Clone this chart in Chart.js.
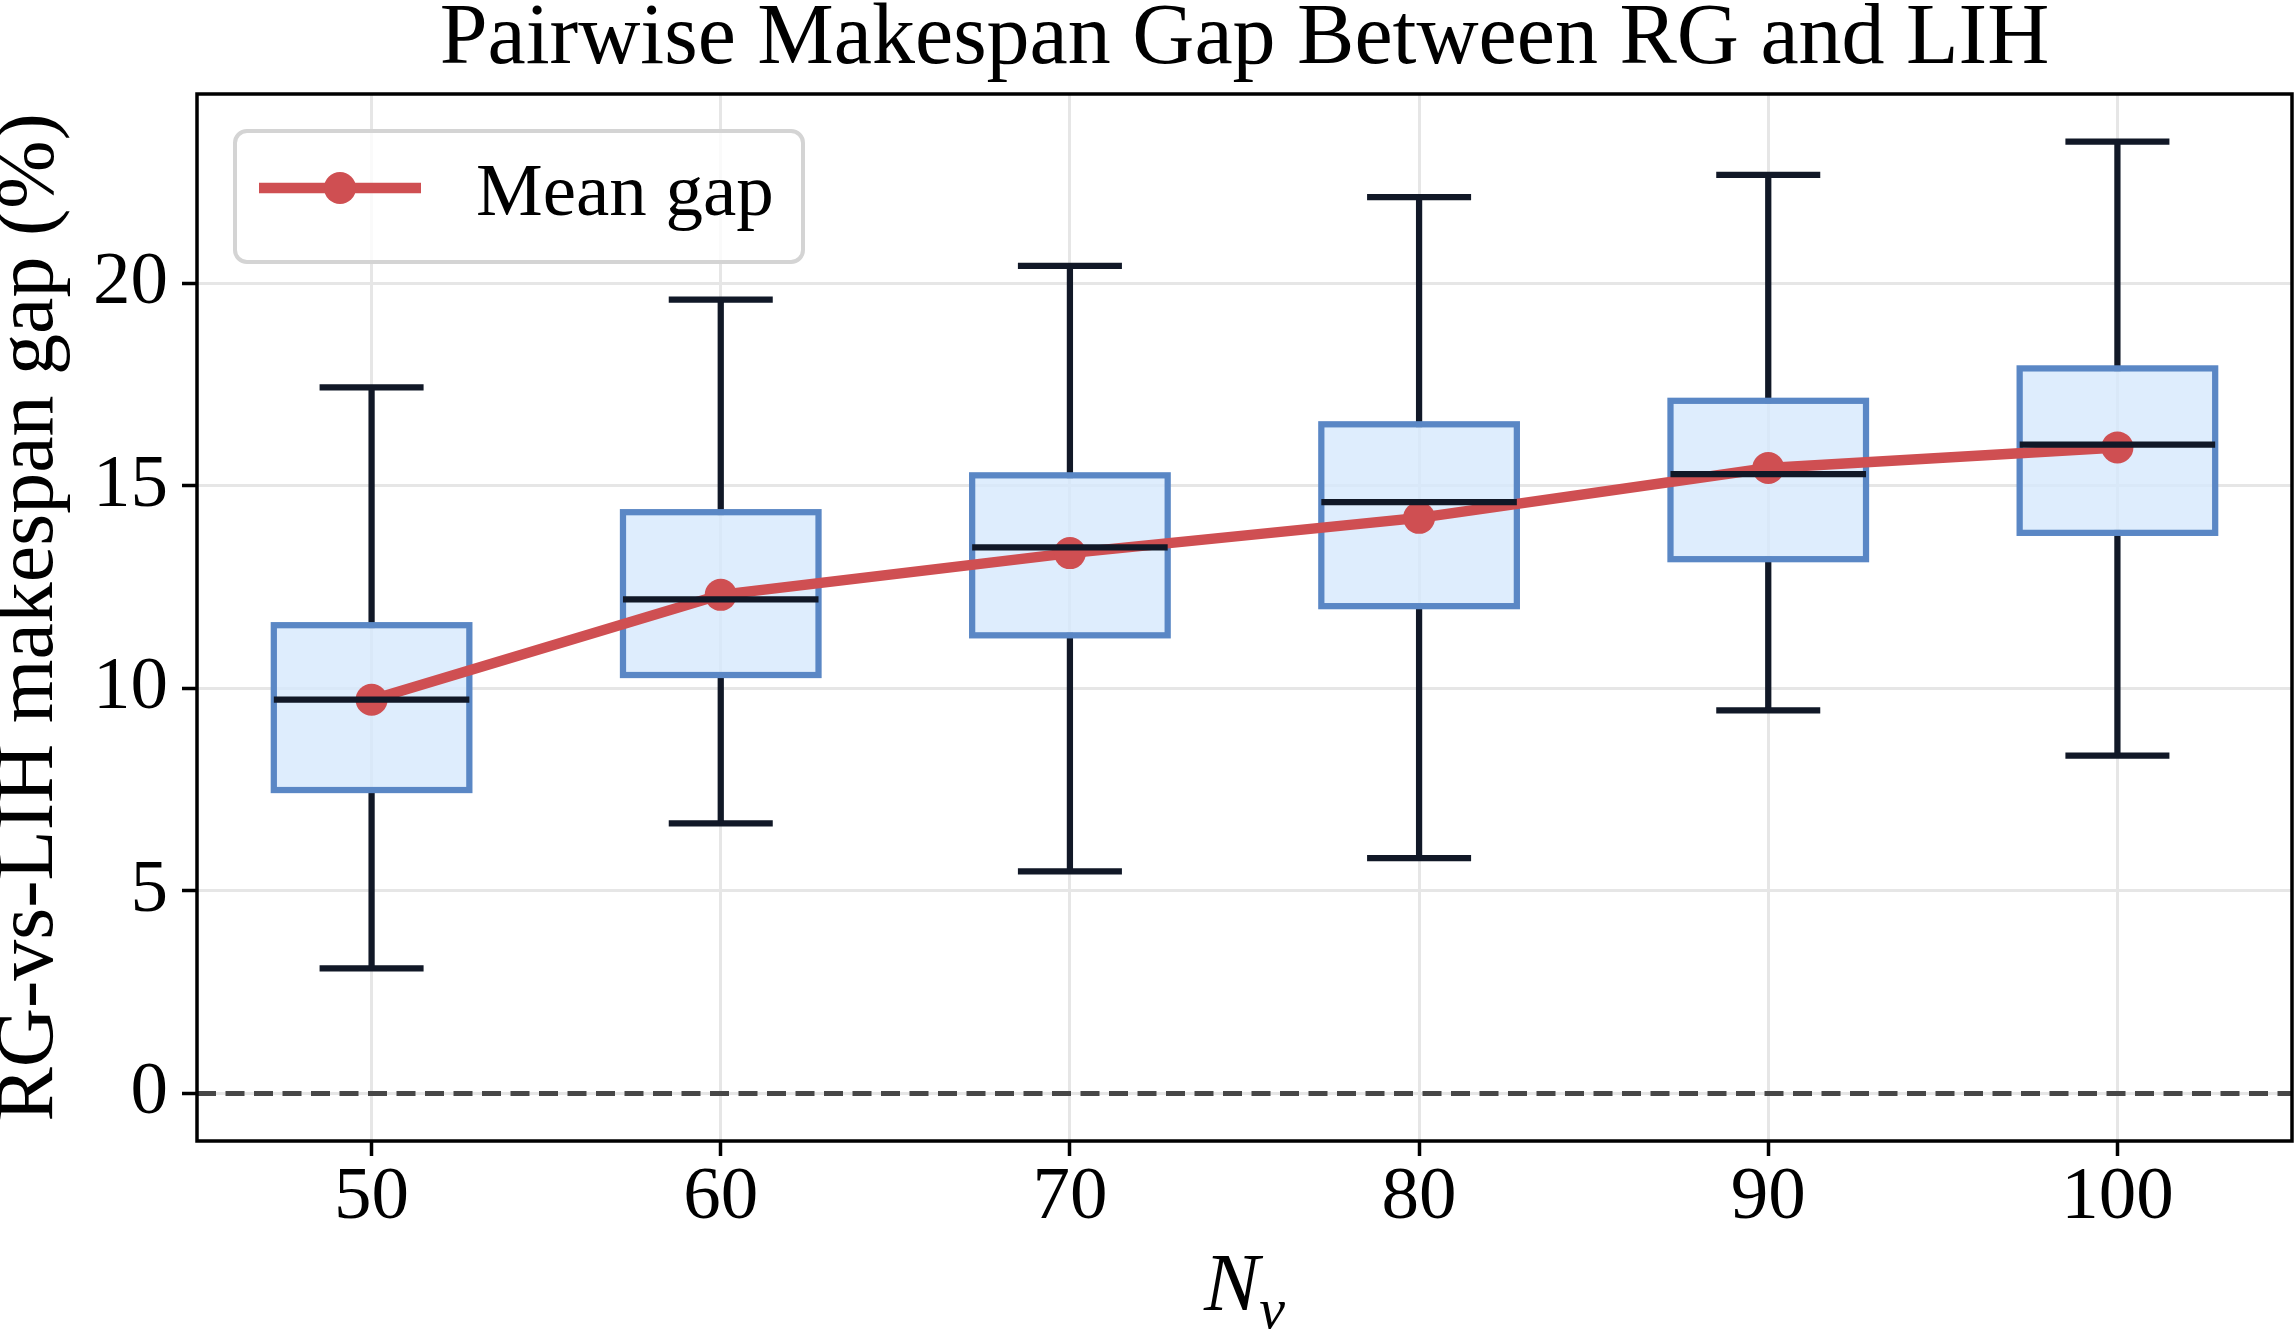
<!DOCTYPE html>
<html>
<head>
<meta charset="utf-8">
<script src="https://cdn.jsdelivr.net/npm/chart.js@4.4.1/dist/chart.umd.min.js"></script>
<style>
  body { margin: 0; background: #fff; }
  #wrap { width: 2296px; height: 1331px; position: relative; }
</style>
</head>
<body>
<div id="wrap"><canvas id="myChart"></canvas></div>
<script>
// box plot data (gap in %)
var nv = [50, 60, 70, 80, 90, 100];
var whiskerLow  = [3.09, 6.67, 5.48, 5.81, 9.46, 8.34];
var q1          = [7.49, 10.33, 11.31, 12.03, 13.19, 13.84];
var median      = [9.72, 12.20, 13.48, 14.60, 15.29, 16.02];
var q3          = [11.56, 14.35, 15.26, 16.52, 17.10, 17.90];
var whiskerHigh = [17.43, 19.60, 20.43, 22.13, 22.68, 23.50];
var meanGap     = [9.72, 12.31, 13.34, 14.21, 15.44, 15.95];

var xTicks = [50, 60, 70, 80, 90, 100];
var yTicks = [0, 5, 10, 15, 20];

var serif = '"Liberation Serif", "Times New Roman", serif';
var red = '#cf4f52';
var navy = '#111827';
var boxWidth = 5.6;   // in x units
var capWidth = 2.8;

Chart.defaults.font.family = serif;
Chart.defaults.color = '#000';

var boxPlugin = {
  id: 'boxes',
  beforeDatasetsDraw: function(chart) {
    var ctx = chart.ctx, a = chart.chartArea, x = chart.scales.x, y = chart.scales.y;
    ctx.save();
    // dashed zero line
    var y0 = y.getPixelForValue(0);
    ctx.beginPath();
    ctx.setLineDash([19, 9.5]);
    ctx.strokeStyle = '#474747';
    ctx.lineWidth = 5;
    ctx.moveTo(a.left, y0);
    ctx.lineTo(a.right, y0);
    ctx.stroke();
    ctx.setLineDash([]);

    for (var i = 0; i < nv.length; i++) {
      var cx = x.getPixelForValue(nv[i]);
      var hw = x.getPixelForValue(nv[i] + boxWidth / 2) - cx;
      var cw = x.getPixelForValue(nv[i] + capWidth / 2) - cx;
      var yLo = y.getPixelForValue(whiskerLow[i]);
      var yHi = y.getPixelForValue(whiskerHigh[i]);
      var y1 = y.getPixelForValue(q1[i]);
      var y3 = y.getPixelForValue(q3[i]);

      // whiskers + caps
      ctx.strokeStyle = navy;
      ctx.lineWidth = 6.25;
      ctx.lineCap = 'square';
      ctx.beginPath();
      ctx.moveTo(cx, y3); ctx.lineTo(cx, yHi);
      ctx.moveTo(cx, y1); ctx.lineTo(cx, yLo);
      ctx.moveTo(cx - cw, yHi); ctx.lineTo(cx + cw, yHi);
      ctx.moveTo(cx - cw, yLo); ctx.lineTo(cx + cw, yLo);
      ctx.stroke();

      // box
      ctx.lineCap = 'butt';
      ctx.fillStyle = 'rgba(214, 232, 252, 0.8)';
      ctx.fillRect(cx - hw, y3, hw * 2, y1 - y3);
      ctx.strokeStyle = '#5a87c5';
      ctx.lineWidth = 6.25;
      ctx.strokeRect(cx - hw, y3, hw * 2, y1 - y3);
    }
    ctx.restore();
  },
  afterDatasetsDraw: function(chart) {
    var ctx = chart.ctx, x = chart.scales.x, y = chart.scales.y;
    ctx.save();
    ctx.strokeStyle = navy;
    ctx.lineWidth = 6.25;
    ctx.lineCap = 'butt';
    for (var i = 0; i < nv.length; i++) {
      var cx = x.getPixelForValue(nv[i]);
      var hw = x.getPixelForValue(nv[i] + boxWidth / 2) - cx;
      var ym = y.getPixelForValue(median[i]);
      ctx.beginPath();
      ctx.moveTo(cx - hw, ym);
      ctx.lineTo(cx + hw, ym);
      ctx.stroke();
    }
    ctx.restore();
  },
  afterDraw: function(chart) {
    var ctx = chart.ctx, a = chart.chartArea;
    ctx.save();
    // frame
    ctx.strokeStyle = '#000';
    ctx.lineWidth = 3.5;
    ctx.strokeRect(a.left, a.top, a.right - a.left, a.bottom - a.top);

    // legend
    var lx = a.left + 38, ly = a.top + 37, lw = 568, lh = 131, r = 12;
    ctx.beginPath();
    ctx.roundRect(lx, ly, lw, lh, r);
    ctx.fillStyle = 'rgba(255,255,255,0.8)';
    ctx.fill();
    ctx.strokeStyle = '#d4d4d4';
    ctx.lineWidth = 4;
    ctx.stroke();
    var sy = ly + 57;
    ctx.beginPath();
    ctx.strokeStyle = red;
    ctx.lineWidth = 10.5;
    ctx.lineCap = 'butt';
    ctx.moveTo(lx + 24, sy);
    ctx.lineTo(lx + 186, sy);
    ctx.stroke();
    ctx.beginPath();
    ctx.fillStyle = red;
    ctx.arc(lx + 105, sy, 16, 0, Math.PI * 2);
    ctx.fill();
    ctx.fillStyle = '#000';
    ctx.font = '75px ' + serif;
    ctx.textBaseline = 'alphabetic';
    ctx.textAlign = 'left';
    ctx.fillText('Mean gap', lx + 241, ly + 84);

    // x axis title: N with subscript v
    var cx = (a.left + a.right) / 2;
    ctx.font = 'italic 83px ' + serif;
    var wN = ctx.measureText('N').width;
    ctx.font = 'italic 58px ' + serif;
    var wv = ctx.measureText('v').width;
    var sx = cx - (wN + wv) / 2;
    ctx.font = 'italic 83px ' + serif;
    ctx.fillText('N', sx, 1310);
    ctx.font = 'italic 58px ' + serif;
    ctx.fillText('v', sx + wN, 1328);
    ctx.restore();
  }
};

var ctx = document.getElementById('myChart');
var myChart = new Chart(ctx, {
  type: 'line',
  data: {
    datasets: [
      {
        label: 'Mean gap',
        data: nv.map(function(v, i) { return {x: v, y: meanGap[i]}; }),
        borderColor: red,
        backgroundColor: red,
        borderWidth: 10.5,
        pointRadius: 16,
        pointHoverRadius: 16,
        pointBorderWidth: 0,
        pointBackgroundColor: red,
        tension: 0,
        fill: false
      }
    ]
  },
  options: {
    responsive: true,
    maintainAspectRatio: false,
    devicePixelRatio: 1,
    animation: false,
    layout: { autoPadding: false, padding: { left: 0, right: 4, top: 0, bottom: 0 } },
    plugins: {
      legend: { display: false },
      tooltip: { enabled: false },
      title: {
        display: true,
        text: 'Pairwise Makespan Gap Between RG and LIH',
        fullSize: false,
        color: '#000',
        font: { size: 86, weight: 'normal', lineHeight: 62 / 86 },
        padding: { top: 9, bottom: 23 }
      }
    },
    scales: {
      x: {
        type: 'linear',
        min: 45,
        max: 105,
        afterBuildTicks: function(scale) {
          scale.ticks = xTicks.map(function(v) { return {value: v}; });
        },
        afterFit: function(scale) {
          scale.height = 190;
          scale.paddingLeft = 0;
          scale.paddingRight = 0;
        },
        grid: { color: '#e6e6e6', lineWidth: 3, tickColor: '#000', tickWidth: 3.5, tickLength: 15 },
        border: { display: false },
        ticks: { font: { size: 75, lineHeight: 1 }, padding: 5, color: '#000', maxRotation: 0 }
      },
      y: {
        type: 'linear',
        min: -1.175,
        max: 24.675,
        afterBuildTicks: function(scale) {
          scale.ticks = yTicks.map(function(v) { return {value: v}; });
        },
        afterFit: function(scale) { scale.width = 197; },
        grid: { color: '#e6e6e6', lineWidth: 3, tickColor: '#000', tickWidth: 3.5, tickLength: 15 },
        border: { display: false },
        ticks: { font: { size: 75 }, padding: 14, color: '#000' },
        title: {
          display: true,
          text: 'RG-vs-LIH makespan gap (%)',
          color: '#000',
          font: { size: 82, lineHeight: 60 / 82 },
          padding: { top: 0, bottom: 0 }
        }
      }
    }
  },
  plugins: [boxPlugin]
});
</script>
</body>
</html>
